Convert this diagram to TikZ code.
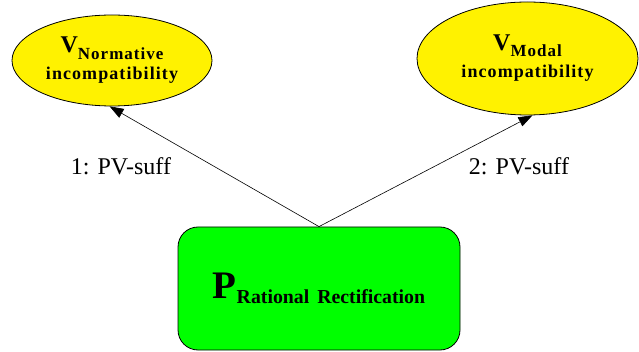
\documentclass[tikz,border=0pt]{standalone}
\usepackage{fontspec}
\setmainfont{Liberation Serif}
\newfontfamily\spacedfont[LetterSpace=6]{Liberation Serif}
\usetikzlibrary{shapes.geometric,arrows.meta}

\begin{document}
	\begin{tikzpicture}
		[x=1pt, y=-1pt, line width=0.8pt,
		vnode/.style={ellipse,draw=black,fill=yellow,inner sep=0pt,align=center,
			font=\spacedfont\bfseries\fontsize{18}{27}\selectfont},
		pnode/.style={rectangle,draw=black,fill=green,rounded corners=20pt,
			minimum width=282pt,minimum height=123pt,inner sep=0pt,
			font=\bfseries},
		pvlabel/.style={font=\fontsize{24}{24}\selectfont,inner sep=0pt,anchor=base},
		pvarrow/.style={-{Triangle[length=14pt,width=10pt]},line width=0.6pt},
		]

		\useasboundingbox (0,0) rectangle (639,352);

		\node[vnode,minimum width=200pt,minimum height=91pt] (norm) at (112,60.5)
			{{\fontsize{24}{24}\selectfont V}\raisebox{-7pt}{\fontsize{17}{17}\selectfont Normative}\\incompatibility};
		\node[vnode,minimum width=221pt,minimum height=113pt] (modal) at (527.5,58.5)
			{{\fontsize{24}{24}\selectfont V}\raisebox{-6pt}{\fontsize{17}{17}\selectfont Modal}\\incompatibility};
		\node[pnode] (ratio) at (319,288.5)
			{{\fontsize{39}{39}\selectfont P}\raisebox{-5pt}{\fontsize{19.8}{20}\selectfont Rational\hspace{8pt}Rectification}};

		\draw[pvarrow] (ratio.north) -- (norm.267);
		\draw[pvarrow] (ratio.north) -- (modal.275);

		\node[pvlabel] (suff1) at (121,175) {1: PV-suff};
		\node[pvlabel] (suff2) at (519,175) {2: PV-suff};
	\end{tikzpicture}
\end{document}
